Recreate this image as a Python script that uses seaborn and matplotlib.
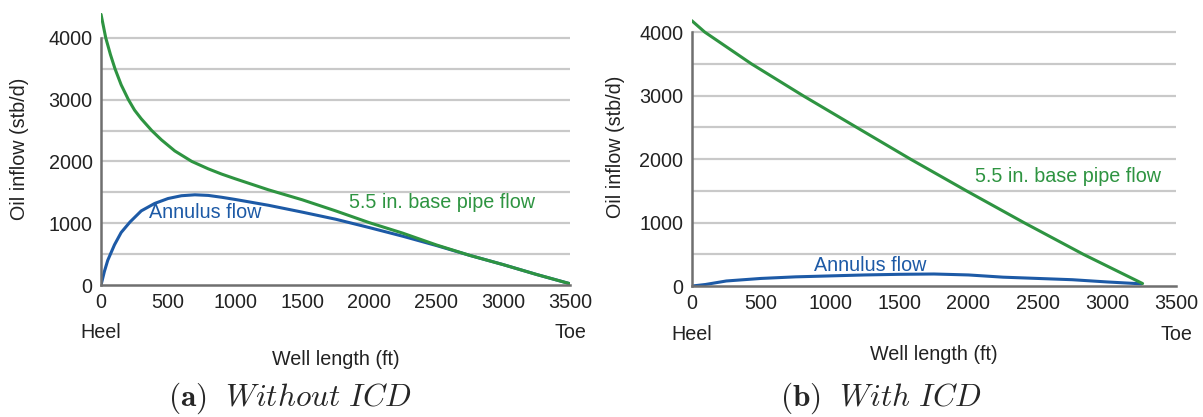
import matplotlib
matplotlib.use("Agg")
import matplotlib.pyplot as plt
import matplotlib.transforms as mtransforms
import seaborn as sns
import pandas as pd

sns.set_style("white")
plt.rcParams['font.family'] = ['Liberation Sans', 'DejaVu Sans']
plt.rcParams['mathtext.fontset'] = 'cm'

# ---- data: (a) Without ICD ----
a_pipe_len = [0, 35, 70, 104, 150, 204, 250, 300, 378, 450, 550, 677, 800, 900,
              1000, 1250, 1500, 1750, 2000, 2250, 2500, 2750, 3000, 3250, 3500]
a_pipe = [4380, 4000, 3730, 3500, 3240, 3000, 2830, 2690, 2500, 2350, 2170, 2000,
          1880, 1795, 1720, 1540, 1380, 1200, 1010, 840, 650, 480, 330, 170, 20]
a_ann_len = [0, 25, 50, 100, 150, 216, 300, 400, 500, 600, 700, 800, 900, 1000,
             1250, 1500, 1750, 2000, 2250, 2500, 2750, 3000, 3250, 3500]
a_annulus = [0, 220, 400, 650, 850, 1020, 1200, 1320, 1400, 1445, 1460, 1450, 1420,
             1385, 1290, 1180, 1065, 930, 790, 640, 480, 330, 170, 20]

# ---- data: (b) With ICD ----
b_pipe_len = [0, 94, 431, 803, 1191, 1580, 1985, 2400, 2830, 3258]
b_pipe = [4180, 4000, 3500, 3000, 2500, 2000, 1500, 1000, 500, 40]
b_ann_len = [0, 100, 250, 500, 750, 1000, 1250, 1500, 1750, 2000, 2250, 2500,
             2750, 3000, 3250]
b_annulus = [0, 25, 80, 120, 145, 160, 175, 185, 190, 175, 140, 120, 100, 65, 35]

x_ticks = [0, 500, 1000, 1500, 2000, 2500, 3000, 3500]
y_ticks = [0, 1000, 2000, 3000, 4000]
grid_levels = [500, 1000, 1500, 2000, 2500, 3000, 3500, 4000]

GREEN = "#2e9441"
BLUE = "#1d5aa6"
FS = 14.2

fig = plt.figure(figsize=(12.03, 4.17), dpi=100)
ax1 = fig.add_axes([0.084, 0.3165, 0.390, 0.652])
ax2 = fig.add_axes([0.575, 0.314, 0.4026, 0.670])


def style(ax, heel_y, wl_pad, yl_pad):
    ax.set_xlim(0, 3500)
    ax.set_ylim(0, 4400)
    for lv in grid_levels:
        ax.axhline(lv, color="#c9c9c9", lw=1.6, zorder=0)
    ax.set_xticks(x_ticks)
    ax.set_yticks(y_ticks)
    ax.tick_params(axis='x', direction='in', length=4, width=1.2, color="#777777",
                   labelsize=FS, pad=6, labelcolor="#222222")
    ax.tick_params(axis='y', length=0, labelsize=FS, pad=6, labelcolor="#222222")
    for s in ['top', 'right']:
        ax.spines[s].set_visible(False)
    ax.spines['left'].set_bounds(0, 4000)
    ax.spines['left'].set_color("#6f6f6f")
    ax.spines['left'].set_linewidth(1.8)
    ax.spines['bottom'].set_color("#6f6f6f")
    ax.spines['bottom'].set_linewidth(1.8)
    ax.set_ylabel("Oil inflow (stb/d)", fontsize=FS, color="#222222", labelpad=yl_pad)
    ax.set_xlabel("Well length (ft)", fontsize=FS, color="#222222", labelpad=wl_pad)
    tr = mtransforms.blended_transform_factory(ax.transData, ax.transAxes)
    ax.text(0, heel_y, "Heel", transform=tr, ha='center', va='center',
            fontsize=FS, color="#222222")
    ax.text(3500, heel_y, "Toe", transform=tr, ha='center', va='center',
            fontsize=FS, color="#222222")


dfa_p = pd.DataFrame({"x": a_pipe_len, "y": a_pipe})
dfa_a = pd.DataFrame({"x": a_ann_len, "y": a_annulus})
sns.lineplot(data=dfa_a, x="x", y="y", ax=ax1, color=BLUE, lw=2.2)
sns.lineplot(data=dfa_p, x="x", y="y", ax=ax1, color=GREEN, lw=2.2)
style(ax1, -0.175, 27, 14)
ax1.text(776, 1166, "Annulus flow", color=BLUE, fontsize=FS, ha='center', va='center')
ax1.text(2545, 1328, "5.5 in. base pipe flow", color=GREEN, fontsize=FS,
         ha='center', va='center')

dfb_p = pd.DataFrame({"x": b_pipe_len, "y": b_pipe})
dfb_a = pd.DataFrame({"x": b_ann_len, "y": b_annulus})
sns.lineplot(data=dfb_a, x="x", y="y", ax=ax2, color=BLUE, lw=2.2)
sns.lineplot(data=dfb_p, x="x", y="y", ax=ax2, color=GREEN, lw=2.2)
style(ax2, -0.175, 23, 10)
ax2.text(1287, 331, "Annulus flow", color=BLUE, fontsize=FS, ha='center', va='center')
ax2.text(2719, 1732, "5.5 in. base pipe flow", color=GREEN, fontsize=FS,
         ha='center', va='center')

fig.text(0.241, 0.045, r"$\mathbf{(a)}\ \ \mathit{Without\ ICD}$", fontsize=22.5,
         ha='center', va='center')
fig.text(0.732, 0.045, r"$\mathbf{(b)}\ \ \mathit{With\ ICD}$", fontsize=22.5,
         ha='center', va='center')

fig.savefig("out.png", dpi=100)
